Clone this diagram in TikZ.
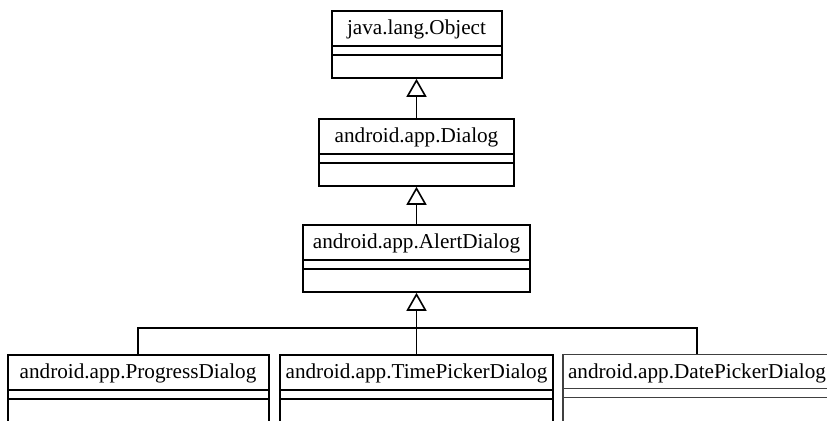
\documentclass[tikz,border=0pt]{standalone}
\usepackage{fontspec}
\setmainfont{Liberation Serif}
\usetikzlibrary{shapes.multipart,arrows.meta}

% class box: name, attributes, operations
\newcommand{\umlparts}[2]{\rule[-4.8pt]{0pt}{16.3pt}#1\nodepart{two}\rule{0pt}{3.8pt}\nodepart{three}\rule{0pt}{#2}}

\tikzset{
  umlclass/.style={draw, line width=1pt, rectangle split, rectangle split parts=3,
    inner xsep=2pt, inner ysep=0pt, anchor=north, font=\fontsize{10.6}{12}\selectfont},
  umlfaint/.style={umlclass, line width=0.6pt, draw=black!75},
  inherit/.style={line width=0.8pt, -{Triangle[open, length=9pt, width=10pt, line width=0.8pt]}},
}

\begin{document}
\begin{tikzpicture}[x=0.5pt, y=-0.5pt]
  \path[use as bounding box, clip] (0,0) rectangle (827,421);
  % hierarchy, top to bottom
  \node[umlclass, minimum width=85pt] (object) at (416.5,10) {\umlparts{java.lang.Object}{10.3pt}};
  \node[umlclass, minimum width=97.5pt] (dialog) at (416.5,118) {\umlparts{android.app.Dialog}{10.3pt}};
  \node[umlclass, minimum width=113.5pt] (alert) at (416.5,224) {\umlparts{android.app.AlertDialog}{10.3pt}};
  % subclasses (cut off at the bottom)
  \node[umlclass, minimum width=130.5pt] (progress) at (138,354) {\umlparts{android.app.ProgressDialog}{20pt}};
  \node[umlclass, minimum width=136.5pt] (timepicker) at (416.5,354) {\umlparts{android.app.TimePickerDialog}{20pt}};
  \node[umlfaint, minimum width=134pt] (datepicker) at (697,354) {\umlparts{android.app.DatePickerDialog}{20pt}};
  % generalisation arrows
  \draw[inherit] (dialog.north) -- (object.south);
  \draw[inherit] (alert.north) -- (dialog.south);
  \coordinate (bus) at (416.5,328);
  \draw[line width=0.8pt] (progress.north) |- (bus) -| (datepicker.north);
  \draw[inherit] (timepicker.north) -- (alert.south);
\end{tikzpicture}
\end{document}
